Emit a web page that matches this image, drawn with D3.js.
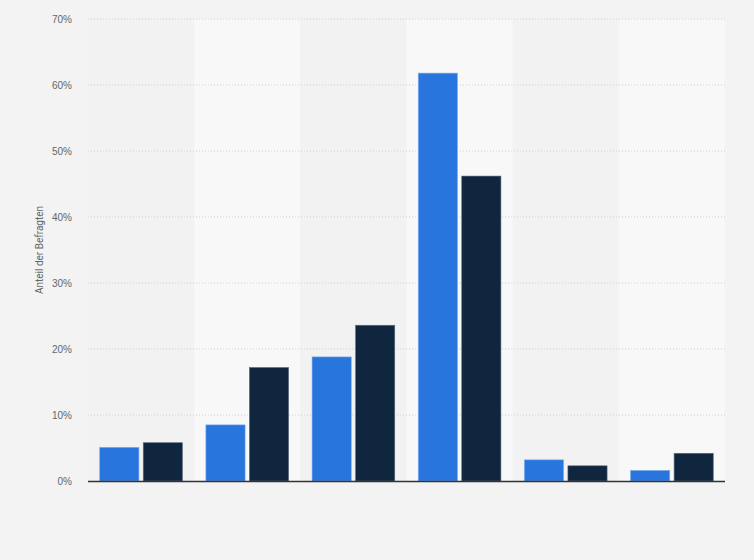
<!DOCTYPE html>
<html><head><meta charset="utf-8">
<script src="https://cdn.jsdelivr.net/npm/d3@7"></script>
<style>
html,body{margin:0;padding:0;background:#f3f3f3;}
svg{display:block;font-family:Roboto, "Liberation Sans", Arial, sans-serif;}
</style></head>
<body>
<svg id="chart" width="754" height="560"></svg>
<script>
const categories = ["A","B","C","D","E","F"];
const series1 = [5.1, 8.5, 18.8, 61.8, 3.2, 1.6];
const series2 = [5.8, 17.2, 23.6, 46.2, 2.3, 4.2];
const yTicks = [0,10,20,30,40,50,60,70];
const yTitle = "Anteil der Befragten";

const svg = d3.select("#chart");
const m = {left:88, right:29, top:19, bottom:79};
const W = 754, H = 560;
const x0 = d3.scaleBand().domain(categories).range([m.left, W - m.right]).paddingInner(0).paddingOuter(0);
const x1 = d3.scaleBand().domain([0,1]).range([0, x0.bandwidth()]).paddingInner(0.1).paddingOuter(0.27);
const y = d3.scaleLinear().domain([0,70]).range([H - m.bottom, m.top]);

svg.append("rect").attr("width",W).attr("height",H).attr("fill","#f3f3f3");

// bands
svg.append("g").selectAll("rect").data(categories).join("rect")
  .attr("x", d => x0(d)).attr("y", y(70))
  .attr("width", x0.bandwidth()).attr("height", y(0) - y(70))
  .attr("fill", (d,i) => i % 2 ? "#f8f8f8" : "#f2f2f2");

// grid
svg.append("g").selectAll("line").data(yTicks.filter(t => t > 0)).join("line")
  .attr("x1", m.left).attr("x2", W - m.right)
  .attr("y1", d => y(d)).attr("y2", d => y(d))
  .attr("stroke", "#cfcfcf").attr("stroke-width", 1).attr("stroke-dasharray", "1,2");

// y axis labels
const yAxis = d3.axisLeft(y).tickValues(yTicks).tickFormat(d => d + "%").tickSize(0).tickPadding(16);
const ga = svg.append("g").attr("transform", `translate(${m.left},0)`).call(yAxis);
ga.select(".domain").remove();
ga.selectAll("text").attr("fill","#666").attr("font-size","10px");

// bars
const colors = ["#2876dd", "#10263f"];
const groups = svg.append("g").selectAll("g").data(categories).join("g")
  .attr("transform", d => `translate(${x0(d)},0)`);
groups.selectAll("rect").data((d,i) => [series1[i], series2[i]]).join("rect")
  .attr("x", (d,j) => x1(j)).attr("width", x1.bandwidth())
  .attr("y", d => y(d)).attr("height", d => y(0) - y(d))
  .attr("fill", (d,j) => colors[j])
  .attr("stroke", (d,j) => j ? "#5a6b7d" : "#7aa8ea").attr("stroke-width", 0.6);

// baseline
svg.append("line").attr("x1", m.left).attr("x2", W - m.right)
  .attr("y1", y(0) + 0.5).attr("y2", y(0) + 0.5)
  .attr("stroke", "#333").attr("stroke-width", 1.3);

// y title
svg.append("text").attr("transform", `translate(43,${(y(0)+y(70))/2}) rotate(-90)`)
  .attr("text-anchor","middle").attr("fill","#666").attr("font-size","10px").text(yTitle);
</script>
</body></html>
